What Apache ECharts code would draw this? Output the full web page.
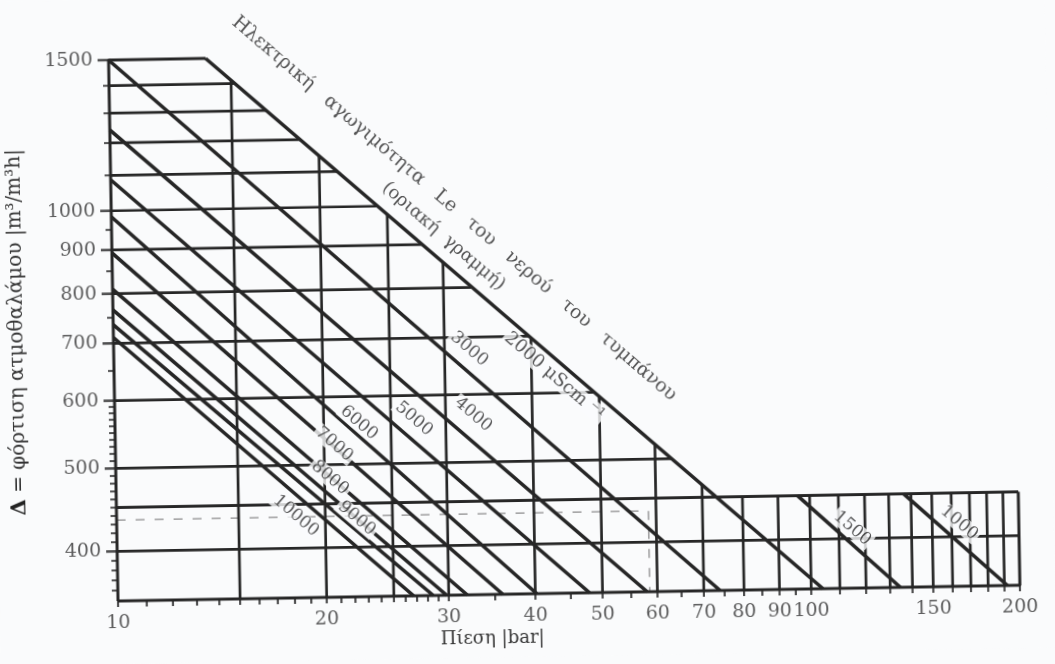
<!DOCTYPE html>
<html>
<head>
<meta charset="utf-8">
<script src="https://cdn.jsdelivr.net/npm/echarts@6/dist/echarts.min.js"></script>
<style>
html, body { margin: 0; padding: 0; background: #fafbfc; overflow: hidden; }
/* the scanned sheet sits about one degree off square */
#chart { width: 1055px; height: 664px; transform: rotate(-1deg); transform-origin: 118px 600px; }
</style>
</head>
<body>
<div id="chart"></div>
<script>
var chart = echarts.init(document.getElementById('chart'));

// axes: pressure P [bar] and steam load Δ [m3/m3h], both log
var xMin = 10, xMax = 200;
var yMin = 350, yMax = 1500;
var xTickLabels = [10, 20, 30, 40, 50, 60, 70, 80, 90, 100, 150, 200];
var yTickLabels = [400, 500, 600, 700, 800, 900, 1000, 1500];
var xMinorTicks = [11, 12, 13, 14, 15, 16, 17, 18, 19, 21, 22, 23, 24, 25, 26, 27, 28, 29, 35, 45, 55, 65, 75, 85, 95, 110, 120, 130, 140, 160, 170, 180, 190];
var yMinorTicks = [1400, 1300, 1200, 1100, 950, 850, 750, 650,
	590, 580, 570, 560, 550, 540, 530, 520, 510, 490, 480, 470, 460, 450, 440, 430, 420, 410, 390, 380, 370, 360];

// grid lines
var hLinesToLimit = [1400, 1300, 1200, 1100, 1000, 900, 800, 700, 600, 500];
var hLinesFull = [450, 400];
var vLinesToLimit = [15, 20, 25, 30, 40, 50, 60, 70];
var vLinesStrip = [80, 90, 100, 110, 120, 130, 140, 150, 160, 170, 180, 190];
var stripTop = 450;

// limit line = 2000 μS/cm
var limitStart = [13.8, 1500];
var limitEnd = [104, 350];

// conductivity lines (μS/cm): start and end points [P, Δ]
var condNames = ['3000', '4000', '5000', '6000', '7000', '8000', '9000', '', '10000', '1500', '1000'];
var condStartP = [10, 10, 10, 10, 10, 10, 10, 10, 10, 96.1, 136.7];
var condStartD = [1500, 1243, 1087, 984, 893, 810, 766, 736, 711, 450, 450];
var condEndP = [73.9, 58.0, 47.9, 40.2, 35.9, 31.9, 29.8, 28.5, 26.7, 134.5, 191.9];
var condEndD = [350, 350, 350, 350, 350, 350, 350, 350, 350, 350, 350];
// where each number is written: P along the line, and its shift off the line (px)
var condLabelAt = [31.3, 31.4, 26.0, 22.0, 20.6, 20.4, 22.2, 0, 18.8, 112, 158.7];
var condLabelShift = [-18, -21, -17, -10, -2, 1, 0, 0, 16, -12, -15];

// worked example (dashed)
var exampleLoad = 435;
var examplePressure = 58.5;

var bg = '#fafbfc';
var ink = '#262626';
var serif = '"DejaVu Serif", "Liberation Serif", serif';

function logAt(p0, p1, x) {
	var t = (Math.log(x) - Math.log(p0[0])) / (Math.log(p1[0]) - Math.log(p0[0]));
	return Math.exp(Math.log(p0[1]) + t * (Math.log(p1[1]) - Math.log(p0[1])));
}
function logAtY(p0, p1, y) {
	var t = (Math.log(y) - Math.log(p0[1])) / (Math.log(p1[1]) - Math.log(p0[1]));
	return Math.exp(Math.log(p0[0]) + t * (Math.log(p1[0]) - Math.log(p0[0])));
}

var series = [];
function seg(points, width, extra) {
	var s = {
		type: 'line',
		data: points,
		symbol: 'none',
		silent: true,
		clip: false,
		z: 2,
		lineStyle: { color: ink, width: width }
	};
	if (extra) {
		for (var k in extra) s[k] = extra[k];
	}
	series.push(s);
}

// frame
seg([[xMin, yMin], [xMin, yMax], [limitStart[0], yMax]], 3);
seg([[xMin, yMin], [xMax, yMin], [xMax, stripTop]], 3);
seg([[xMin, stripTop], [xMax, stripTop]], 2.7);
hLinesFull.forEach(function (d) {
	seg([[xMin, d], [xMax, d]], 2.7);
});
hLinesToLimit.forEach(function (d) {
	seg([[xMin, d], [logAtY(limitStart, limitEnd, d), d]], 2.7);
});
vLinesToLimit.forEach(function (p) {
	seg([[p, yMin], [p, logAt(limitStart, limitEnd, p)]], 2.7);
});
vLinesStrip.forEach(function (p) {
	seg([[p, yMin], [p, stripTop]], 2.7);
});

// dashed example reading
seg([[xMin, exampleLoad], [examplePressure, exampleLoad], [examplePressure, yMin]], 1.3, {
	lineStyle: { color: '#8c8c8c', width: 1.3, type: [9, 10] }, z: 1
});

// limit line
seg([limitStart, limitEnd], 3.6, { z: 3 });

// conductivity lines
for (var i = 0; i < condNames.length; i++) {
	seg([[condStartP[i], condStartD[i]], [condEndP[i], condEndD[i]]], 3.6, { z: 3 });
}

// ticks
series.push({
	type: 'scatter', silent: true, clip: false, z: 3,
	symbol: 'rect', symbolSize: [6, 2], symbolOffset: [-3, 0],
	itemStyle: { color: ink },
	data: yMinorTicks.map(function (d) { return [xMin, d]; })
});
series.push({
	type: 'scatter', silent: true, clip: false, z: 3,
	symbol: 'rect', symbolSize: [11, 2.6], symbolOffset: [-5.5, 0],
	itemStyle: { color: ink },
	data: yTickLabels.map(function (d) { return [xMin, d]; })
});
series.push({
	type: 'scatter', silent: true, clip: false, z: 3,
	symbol: 'rect', symbolSize: [2.2, 6], symbolOffset: [0, 3],
	itemStyle: { color: ink },
	data: xMinorTicks.concat(xTickLabels).map(function (p) { return [p, yMin]; })
});

// tick labels
series.push({
	type: 'scatter', silent: true, clip: false, symbolSize: 0,
	data: yTickLabels.map(function (d) { return [xMin, d]; }),
	label: {
		show: true, position: 'left', distance: 16,
		fontFamily: serif, fontSize: 19, color: '#333',
		formatter: function (p) { return String(p.value[1]); }
	}
});
series.push({
	type: 'scatter', silent: true, clip: false, symbolSize: 0,
	data: xTickLabels.map(function (p) { return [p, yMin]; }),
	label: {
		show: true, position: 'bottom', distance: 13,
		fontFamily: serif, fontSize: 19, color: '#333',
		formatter: function (p) { return String(p.value[0]); }
	}
});

// annotations written along the lines
var annot = [];
for (var j = 0; j < condNames.length; j++) {
	if (!condNames[j]) continue;
	var a0 = [condStartP[j], condStartD[j]], a1 = [condEndP[j], condEndD[j]];
	var at = condLabelAt[j];
	annot.push({
		value: [at, logAt(a0, a1, at)],
		label: { formatter: condNames[j], offset: [0, condLabelShift[j]] }
	});
}
var limitLabelAt = 44.5, titleAt = 28.1, noteAt = 28.8;
annot.push({
	value: [limitLabelAt, logAt(limitStart, limitEnd, limitLabelAt)],
	label: { formatter: '2000 μScm ⁻¹', offset: [0, 14], fontSize: 18 }
});
annot.push({
	value: [noteAt, logAt(limitStart, limitEnd, noteAt)],
	label: { formatter: '(οριακή  γραμμή)', offset: [0, -20], fontSize: 18, backgroundColor: 'transparent' }
});
annot.push({
	value: [titleAt, logAt(limitStart, limitEnd, titleAt)],
	label: { formatter: 'Ηλεκτρική   αγωγιμότητα   Le   του   νερού   του   τυμπάνου', offset: [0, -48], fontSize: 19, backgroundColor: 'transparent' }
});

series.push({
	id: 'annot',
	type: 'scatter', silent: true, clip: false, symbolSize: 0, z: 10,
	data: annot,
	label: {
		show: true, position: 'inside',
		fontFamily: serif, fontSize: 17, color: '#2a2a2a',
		backgroundColor: bg, padding: [0, 2],
		rotate: -41.7
	}
});

var option = {
	backgroundColor: bg,
	animation: false,
	grid: { left: 118, right: 35, top: 60, bottom: 63, outerBoundsMode: 'none' },
	xAxis: {
		type: 'log', logBase: 10, min: xMin, max: xMax,
		axisLine: { show: false }, axisTick: { show: false },
		axisLabel: { show: false }, splitLine: { show: false }
	},
	yAxis: {
		type: 'log', logBase: 10, min: yMin, max: yMax,
		axisLine: { show: false }, axisTick: { show: false },
		axisLabel: { show: false }, splitLine: { show: false },
		name: '{b|Δ} = φόρτιση ατμοθαλάμου |m³/m³h|',
		nameLocation: 'middle', nameGap: 86, nameRotate: 90,
		nameTextStyle: {
			fontFamily: serif, fontSize: 20, color: '#333',
			rich: { b: { fontFamily: serif, fontSize: 21, fontWeight: 'bold', color: '#222' } }
		}
	},
	graphic: [{
		type: 'text', left: 440, top: 636,
		style: { text: 'Πίεση |bar|', font: '18px "DejaVu Serif"', fill: '#333' }
	}],
	series: series
};

chart.setOption(option);

// turn the written labels to the slope of the lines as drawn
var pa = chart.convertToPixel({ gridIndex: 0 }, limitStart);
var pb = chart.convertToPixel({ gridIndex: 0 }, limitEnd);
var ang = Math.atan2(pb[1] - pa[1], pb[0] - pa[0]) * 180 / Math.PI;
chart.setOption({ series: [{ id: 'annot', label: { rotate: -ang } }] });
</script>
</body>
</html>
